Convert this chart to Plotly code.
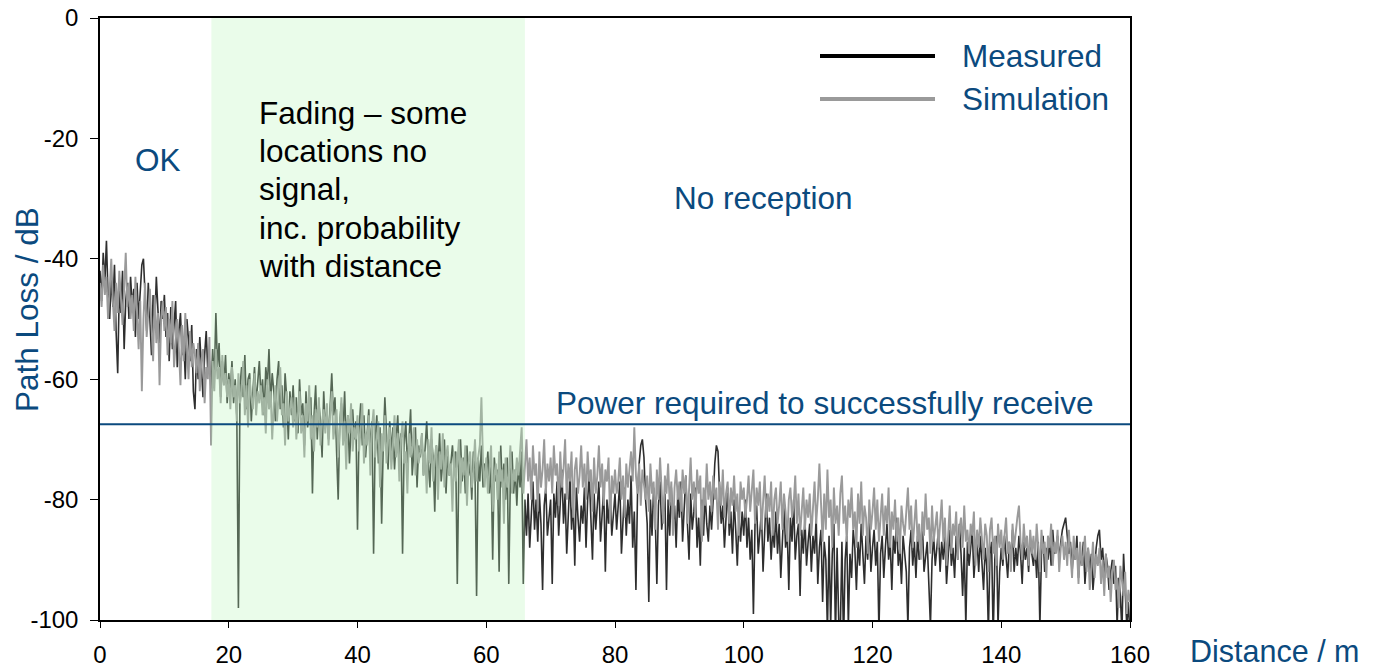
import plotly.graph_objects as go

# Path loss along a walk route, sampled every 0.25 m (one row = 5 m)
STEP_M = 0.25

measured = [
    -42, -47, -39, -44, -37, -46, -50, -43, -48, -41, -52, -59, -45, -49, -42, -55, -47, -44, -50, -43,
    -48, -45, -53, -44, -50, -46, -41, -40, -47, -52, -44, -49, -56, -46, -51, -43, -48, -54, -47, -50,
    -46, -53, -49, -57, -48, -55, -51, -47, -58, -52, -49, -56, -53, -60, -50, -54, -57, -51, -62, -65,
    -55, -60, -53, -58, -63, -56, -52, -59, -57, -62, -55, -60, -49, -58, -54, -63, -57, -61, -56, -64,
    -59, -62, -57, -64, -60, -66, -98, -61, -58, -63, -56, -65, -60, -59, -67, -62, -58, -64, -61, -57,
    -63, -60, -66, -58, -61, -55, -64, -59, -62, -67, -60, -57, -65, -61, -68, -59, -63, -70, -62, -66,
    -61, -67, -63, -69, -60, -66, -64, -71, -62, -68, -65, -63, -79, -66, -61, -70, -64, -67, -73, -62,
    -68, -65, -70, -64, -59, -66, -63, -72, -80, -67, -64, -69, -62, -71, -66, -74, -68, -65, -70, -67,
    -85, -68, -64, -71, -66, -73, -69, -65, -72, -67, -89, -70, -66, -74, -68, -84, -71, -63, -69, -75,
    -67, -72, -68, -75, -70, -66, -73, -69, -89, -71, -67, -74, -70, -65, -76, -72, -68, -78, -71, -73,
    -69, -76, -72, -67, -74, -78, -70, -73, -82, -71, -75, -69, -77, -73, -70, -79, -72, -76, -74, -71,
    -75, -72, -94, -74, -70, -77, -73, -79, -71, -76, -74, -80, -72, -75, -96, -73, -77, -71, -78, -74,
    -76, -72, -79, -74, -90, -73, -77, -75, -92, -71, -78, -74, -80, -73, -94, -76, -72, -79, -75, -81,
    -74, -78, -72, -94, -80, -86, -79, -88, -82, -77, -85, -80, -87, -79, -84, -95, -81, -78, -86, -83,
    -80, -94, -79, -83, -77, -86, -81, -75, -84, -79, -89, -82, -76, -85, -80, -91, -78, -83, -87, -81,
    -84, -78, -88, -80, -76, -83, -90, -79, -85, -81, -77, -87, -82, -78, -92, -80, -84, -79, -86, -82,
    -79, -85, -81, -77, -89, -83, -78, -86, -80, -84, -76, -88, -82, -95, -79, -74, -71, -70, -73, -80,
    -84, -97, -80, -86, -78, -83, -94, -81, -77, -85, -82, -79, -95, -80, -86, -78, -84, -81, -88, -79,
    -83, -77, -87, -81, -76, -84, -90, -79, -85, -82, -78, -88, -83, -91, -80, -86, -79, -84, -87, -81,
    -85, -80, -74, -71, -72, -79, -84, -81, -88, -83, -78, -86, -82, -89, -80, -85, -91, -83, -87, -82,
    -86, -80, -88, -83, -90, -85, -99, -84, -81, -89, -86, -82, -92, -84, -79, -87, -83, -90, -85, -88,
    -82, -89, -84, -93, -86, -81, -88, -85, -95, -83, -87, -80, -90, -86, -84, -96, -85, -89, -83, -91,
    -87, -84, -92, -86, -89, -83, -94, -88, -85, -97, -87, -90, -102, -86, -101, -89, -84, -103, -88, -100,
    -102, -87, -104, -90, -86, -101, -89, -93, -85, -88, -95, -87, -91, -84, -89, -94, -86, -90, -83, -92,
    -88, -85, -91, -87, -102, -89, -86, -93, -88, -84, -90, -87, -95, -86, -89, -83, -91, -88, -94, -86,
    -89, -92, -101, -88, -85, -91, -87, -93, -86, -90, -88, -84, -92, -89, -87, -94, -101, -90, -86, -91,
    -88, -85, -92, -87, -90, -86, -94, -89, -85, -91, -88, -93, -86, -90, -84, -89, -96, -88, -101, -87,
    -91, -88, -85, -93, -89, -87, -92, -86, -90, -95, -88, -91, -102, -89, -87, -103, -90, -86, -101, -92,
    -88, -91, -86, -89, -93, -87, -90, -85, -92, -88, -91, -86, -89, -94, -87, -90, -88, -92, -86, -89,
    -91, -88, -93, -87, -101, -89, -86, -92, -88, -90, -87, -91, -85, -89, -88, -86, -90, -87, -85, -84,
    -83, -86, -89, -87, -92, -88, -90, -86, -93, -89, -91, -87, -94, -90, -88, -92, -89, -95, -91, -88,
    -86, -85, -90, -88, -93, -89, -91, -95, -92, -90, -94, -91, -101, -93, -96, -102, -89, -94, -101, -97,
    -103,
]

simulation = [
    -44, -48, -41, -46, -43, -50, -45, -40, -47, -52, -44, -49, -42, -47, -51, -45, -39, -48, -44, -50,
    -46, -52, -43, -49, -55, -47, -62, -50, -44, -53, -48, -45, -51, -57, -46, -54, -49, -61, -50, -47,
    -52, -48, -56, -50, -54, -47, -58, -53, -50, -55, -61, -51, -57, -49, -55, -60, -52, -58, -54, -56,
    -59, -54, -62, -57, -55, -64, -58, -60, -53, -71, -57, -62, -55, -60, -58, -64, -56, -61, -59, -63,
    -60, -65, -58, -63, -61, -67, -59, -64, -62, -57, -66, -61, -68, -60, -63, -65, -59, -66, -62, -64,
    -61, -66, -63, -69, -60, -65, -62, -70, -64, -61, -67, -63, -58, -66, -64, -71, -62, -67, -65, -63,
    -68, -63, -70, -65, -62, -69, -66, -73, -64, -67, -61, -70, -66, -72, -65, -68, -63, -71, -67, -65,
    -69, -64, -71, -66, -62, -70, -67, -65, -73, -68, -63, -71, -67, -75, -66, -69, -64, -72, -68, -70,
    -66, -72, -68, -64, -74, -69, -71, -66, -76, -68, -65, -73, -70, -67, -78, -69, -72, -66, -74, -70,
    -68, -75, -71, -66, -73, -69, -77, -70, -67, -74, -72, -79, -69, -73, -71, -68, -76, -70, -74, -72,
    -69, -76, -72, -79, -70, -74, -68, -77, -73, -71, -80, -72, -75, -69, -78, -73, -71, -76, -74, -82,
    -72, -77, -74, -70, -79, -73, -76, -71, -81, -74, -72, -78, -75, -70, -77, -73, -71, -63, -74, -78,
    -73, -79, -75, -71, -82, -76, -74, -80, -72, -77, -75, -84, -73, -78, -76, -71, -79, -75, -77, -73,
    -76, -72, -68, -79, -74, -70, -77, -73, -80, -71, -76, -74, -82, -72, -78, -75, -70, -79, -74, -77,
    -73, -79, -71, -76, -74, -81, -72, -78, -75, -70, -80, -74, -77, -72, -83, -75, -73, -79, -76, -71,
    -78, -74, -80, -72, -77, -75, -82, -73, -79, -76, -71, -78, -74, -81, -75, -77, -73, -84, -76, -79,
    -75, -79, -77, -73, -80, -76, -83, -74, -78, -75, -72, -77, -68, -76, -79, -74, -81, -75, -78, -80,
    -76, -82, -74, -79, -77, -85, -75, -80, -73, -78, -84, -76, -79, -74, -81, -77, -86, -78, -75, -80,
    -77, -82, -75, -79, -76, -84, -78, -73, -80, -77, -83, -75, -79, -76, -87, -78, -81, -74, -80, -77,
    -82, -76, -80, -78, -85, -77, -81, -75, -83, -79, -77, -84, -78, -81, -76, -82, -79, -86, -77, -80,
    -78, -83, -80, -76, -82, -79, -75, -84, -78, -81, -77, -85, -80, -76, -83, -79, -82, -77, -86, -80,
    -78, -84, -81, -77, -85, -79, -82, -87, -80, -78, -83, -81, -76, -84, -79, -86, -82, -78, -85, -80,
    -83, -79, -86, -81, -77, -84, -80, -74, -82, -87, -79, -85, -75, -83, -80, -88, -78, -84, -81, -86,
    -79, -76, -84, -81, -87, -80, -83, -78, -85, -82, -88, -79, -84, -77, -86, -81, -83, -89, -80, -85,
    -82, -78, -85, -80, -87, -83, -79, -86, -81, -84, -78, -88, -82, -85, -80, -87, -83, -89, -81, -84,
    -86, -82, -78, -85, -81, -88, -83, -80, -87, -84, -90, -82, -86, -79, -85, -83, -89, -81, -87, -84,
    -82, -88, -84, -80, -87, -83, -91, -85, -81, -89, -84, -86, -82, -90, -85, -83, -88, -81, -87, -85,
    -89, -84, -86, -82, -91, -85, -88, -83, -87, -90, -84, -86, -92, -85, -83, -89, -86, -91, -84, -88,
    -85, -90, -86, -83, -89, -87, -92, -84, -88, -85, -83, -81, -87, -90, -84, -88, -86, -91, -85, -89,
    -86, -90, -84, -88, -92, -85, -89, -87, -93, -86, -88, -84, -91, -87, -89, -85, -92, -88, -86, -90,
    -87, -91, -85, -89, -93, -86, -90, -88, -94, -87, -91, -89, -86, -92, -88, -95, -90, -87, -93, -89,
    -91, -88, -94, -90, -96, -89, -93, -91, -97, -92, -90, -95, -93, -98, -91, -94, -96, -92, -99, -95,
    -97,
]

distance_m = [i * STEP_M for i in range(len(measured))]

x_ticks = [0, 20, 40, 60, 80, 100, 120, 140, 160]
x_tick_text = ["0", "20", "40", "60", "80", "100", "120", "140", "160"]
y_ticks = [0, -20, -40, -60, -80, -100]
y_tick_text = ["0", "-20", "-40", "-60", "-80", "-100"]

fading_zone = (17.3, 66.0)   # metres
rx_threshold_db = -67.5      # power required to receive

FONT = "Liberation Sans, Arial, sans-serif"
BLUE = "#0b4a7e"
BIG = 31.5

fig = go.Figure()
fig.add_trace(go.Scatter(x=distance_m, y=measured, mode="lines", name="Measured",
                         line=dict(color="#2e2e2e", width=1.6)))
fig.add_trace(go.Scatter(x=distance_m, y=simulation, mode="lines", name="Simulation",
                         line=dict(color="#9a9a9a", width=1.9)))

# translucent band over the fading zone
fig.add_shape(type="rect", xref="x", yref="y", x0=fading_zone[0], x1=fading_zone[1],
              y0=-100, y1=0, fillcolor="rgb(184,245,184)", opacity=0.29,
              line=dict(width=0), layer="above")
# receive threshold
fig.add_shape(type="line", xref="x", yref="y", x0=0, x1=160,
              y0=rx_threshold_db, y1=rx_threshold_db,
              line=dict(color=BLUE, width=2), layer="above")

W, H = 1373, 669
L, R, T, B = 100, 1130, 18, 620


def px(xp):
    return (xp - L) / (R - L)


def py(yp):
    return (B - yp) / (B - T)


def label(text, xp, yp, color=BLUE, xanchor="center", size=BIG, angle=0):
    fig.add_annotation(text=text, xref="paper", yref="paper", x=px(xp), y=py(yp),
                       xanchor=xanchor, yanchor="middle", showarrow=False,
                       textangle=angle, font=dict(family=FONT, size=size, color=color))


# custom legend
fig.add_shape(type="line", xref="paper", yref="paper", x0=px(820), x1=px(935),
              y0=py(56), y1=py(56), line=dict(color="#000000", width=4))
fig.add_shape(type="line", xref="paper", yref="paper", x0=px(820), x1=px(935),
              y0=py(99), y1=py(99), line=dict(color="#9a9a9a", width=4))
label("Measured", 960, 56, xanchor="left")
label("Simulation", 960, 99, xanchor="left")

label("OK", 158, 160)
label("No reception", 763, 198)
label("Power required to successfully receive", 824, 403)
for txt, yp in zip(["Fading – some", "locations no", "signal,", "inc. probability",
                    "with distance"], [113, 151, 189, 228, 266]):
    label(txt, 257, yp, color="#000000", xanchor="left")

label("Distance / m", 1188, 651, xanchor="left", size=30.5)
label("Path Loss / dB", 27, 310, angle=-90)

axis_common = dict(showgrid=False, zeroline=False, showline=True, linecolor="#000000",
                   linewidth=1.5, mirror=True, ticks="outside", tickcolor="#000000",
                   tickwidth=1.2, automargin=False,
                   tickfont=dict(family=FONT, size=24, color="#000000"))

fig.update_xaxes(range=[0, 160], tickvals=x_ticks, ticktext=x_tick_text, ticklen=6,
                 ticklabelstandoff=6, **axis_common)
fig.update_yaxes(range=[-100, 0], tickvals=y_ticks, ticktext=y_tick_text, ticklen=8,
                 ticklabelstandoff=7, **axis_common)

fig.update_layout(width=W, height=H, showlegend=False,
                  margin=dict(l=L, r=W - R, t=T, b=H - B, pad=0),
                  plot_bgcolor="white", paper_bgcolor="white")

fig.write_html("out.html")
